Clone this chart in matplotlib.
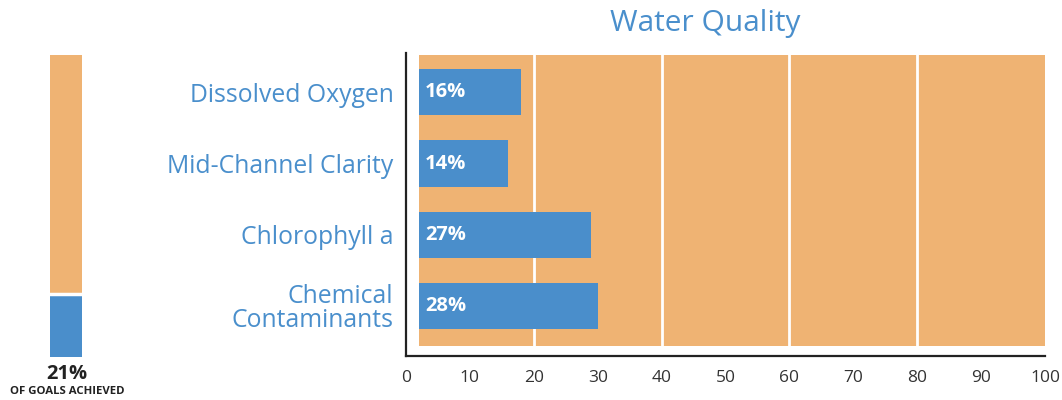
import numpy as np
import matplotlib
matplotlib.use("Agg")
import matplotlib.pyplot as plt

plt.rcParams['font.family'] = ['Open Sans', 'DejaVu Sans']

categories = ["Dissolved Oxygen", "Mid-Channel Clarity", "Chlorophyll a", "Chemical\nContaminants"]
values = [16, 14, 27, 28]
bar_start = 2
overall = 21
xticks = [0, 10, 20, 30, 40, 50, 60, 70, 80, 90, 100]
gridlines = [20, 40, 60, 80]

blue = "#4a8ecb"
orange = "#efb373"
label_blue = "#4a8fcc"

fig = plt.figure(figsize=(10.62, 4), dpi=100)

# main chart
ax = fig.add_axes([0.3823, 0.11, 0.6017, 0.7575])
y = np.arange(len(categories))
ax.set_ylim(3.7, -0.55)
ax.set_xlim(0, 100)
lo, hi = (3.7 - 3.56) / 4.25, (3.7 + 0.52) / 4.25
ax.axvspan(bar_start, 100, ymin=lo, ymax=hi, color=orange, lw=0, zorder=0)
for g in gridlines:
    ax.axvline(g, ymin=lo, ymax=hi, color="white", lw=2, zorder=1)
ax.barh(y, values, left=bar_start, height=0.65, color=blue, zorder=2)
for yi, v in zip(y, values):
    ax.text(bar_start + 1, yi, f"{v}%", color="white", fontsize=14.5,
            fontweight="bold", va="center", ha="left", zorder=3)
ax.set_yticks(y)
ax.set_yticklabels(categories, color=label_blue, fontsize=17.8, linespacing=0.95)
ax.set_xticks(xticks)
ax.tick_params(axis="y", length=0, pad=9)
ax.tick_params(axis="x", length=0, labelsize=12.5, labelcolor="#333333", pad=10)
for s in ["top", "right"]:
    ax.spines[s].set_visible(False)
for s in ["left", "bottom"]:
    ax.spines[s].set_linewidth(1.6)
    ax.spines[s].set_color("#222222")
fig.text(0.664, 0.94, "Water Quality", color=label_blue, fontsize=21.5,
         ha="center", va="center")

# overall goals bar
ax2 = fig.add_axes([0.047, 0.1075, 0.030, 0.755])
ax2.bar([0], [overall], width=1, color=blue)
ax2.bar([0], [100 - overall], bottom=overall, width=1, color=orange)
ax2.axhline(overall, color="white", lw=2.5)
ax2.set_xlim(-0.5, 0.5)
ax2.set_ylim(0, 100)
ax2.axis("off")
fig.text(0.0625, 0.064, f"{overall}%", fontsize=14.5, fontweight="bold",
         color="#222222", ha="center", va="center")
fig.text(0.0635, 0.022, "OF GOALS ACHIEVED", fontsize=8.2, fontweight="bold",
         color="#222222", ha="center", va="center")

fig.savefig("out.png", dpi=100)
